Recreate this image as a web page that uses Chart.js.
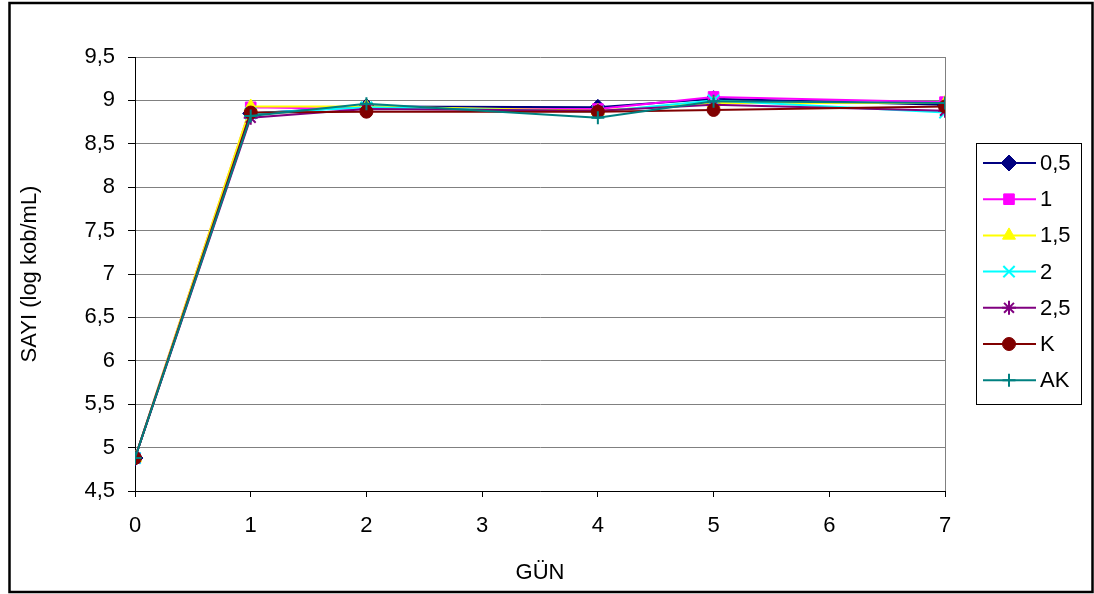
<!DOCTYPE html>
<html>
<head>
<meta charset="utf-8">
<script src="https://cdn.jsdelivr.net/npm/chart.js@4/dist/chart.umd.min.js"></script>
<style>
  html, body { margin: 0; padding: 0; background: #fff; }
  #wrap { width: 1094px; height: 594px; position: relative; }
</style>
</head>
<body>
<div id="wrap"><canvas id="c" width="1094" height="594"></canvas></div>
<script>
// Sampling days (GÜN)
const days = [0, 1, 2, 4, 5, 7];
// Tick labels on the day axis
const dayTicks = [0, 1, 2, 3, 4, 5, 6, 7];

// Counts, log kob/mL, per series
const s05 = [4.88, 8.85, 8.93, 8.92, 9.02, 8.95];
const s1  = [4.88, 8.92, 8.90, 8.90, 9.04, 8.98];
const s15 = [4.88, 8.93, 8.93, 8.88, 8.97, 8.97];
const s2  = [4.88, 8.85, 8.92, 8.87, 9.00, 8.86];
const s25 = [4.88, 8.80, 8.90, 8.88, 8.95, 8.88];
const sK  = [4.88, 8.86, 8.87, 8.87, 8.89, 8.93];
const sAK = [4.88, 8.82, 8.96, 8.80, 8.99, 8.97];

const seriesNames = ['0,5', '1', '1,5', '2', '2,5', 'K', 'AK'];
const seriesValues = [s05, s1, s15, s2, s25, sK, sAK];
const colors = ['#000080', '#FF00FF', '#FFFF00', '#00FFFF', '#800080', '#800000', '#008080'];
const markers = ['rectRot', 'rect', 'triangle', 'crossRot', 'star', 'circle', 'cross'];
const markerSize = [8, 7.5, 7.5, 8, 7, 6.5, 6.5];

const FONT = 'Liberation Sans, Arial, sans-serif';
const FSIZE = 22;

const strokeOnly = s => s === 'crossRot' || s === 'star' || s === 'cross';

const datasets = seriesNames.map((name, i) => ({
  label: name,
  data: days.map((d, j) => ({ x: d, y: seriesValues[i][j] })),
  borderColor: colors[i],
  backgroundColor: colors[i],
  borderWidth: 2,
  pointStyle: markers[i],
  pointRadius: markerSize[i],
  pointBorderWidth: strokeOnly(markers[i]) ? 2 : 1,
  pointBorderColor: colors[i],
  pointBackgroundColor: colors[i],
  tension: 0,
  order: seriesNames.length - i
}));

// Outer frame, plot frame and the boxed legend on the right
const framePlugin = {
  id: 'frame',
  beforeDraw(chart) {
    const ctx = chart.ctx;
    ctx.save();
    ctx.fillStyle = '#fff';
    ctx.fillRect(0, 0, chart.width, chart.height);
    ctx.restore();
  },
  afterDraw(chart) {
    const ctx = chart.ctx;
    const a = chart.chartArea;
    ctx.save();
    // plot area right edge
    ctx.strokeStyle = '#808080';
    ctx.lineWidth = 1;
    ctx.beginPath();
    ctx.moveTo(Math.round(a.right) + 0.5, a.top);
    ctx.lineTo(Math.round(a.right) + 0.5, a.bottom);
    ctx.stroke();

    // outer border
    ctx.strokeStyle = '#000';
    ctx.lineWidth = 2.5;
    ctx.strokeRect(9.5, 3, 1083, 589);

    // legend
    const lx = 976, ly = 143, lw = 105, lh = 261;
    ctx.lineWidth = 1;
    ctx.strokeStyle = '#000';
    ctx.strokeRect(lx + 0.5, ly + 0.5, lw, lh);
    ctx.font = FSIZE + 'px ' + FONT;
    ctx.textBaseline = 'middle';
    ctx.textAlign = 'left';
    chart.data.datasets.forEach((ds, i) => {
      const y = 163 + i * 36.2;
      ctx.strokeStyle = ds.borderColor;
      ctx.lineWidth = 2;
      ctx.beginPath();
      ctx.moveTo(983, y);
      ctx.lineTo(1036, y);
      ctx.stroke();
      ctx.fillStyle = ds.backgroundColor;
      ctx.strokeStyle = ds.borderColor;
      ctx.lineWidth = ds.pointBorderWidth;
      Chart.helpers.drawPoint(ctx, { pointStyle: ds.pointStyle, radius: ds.pointRadius, rotation: 0, borderWidth: ds.pointBorderWidth }, 1009, y);
      ctx.fillStyle = '#000';
      ctx.fillText(ds.label, 1040, y + 1);
    });
    ctx.restore();
  }
};

new Chart(document.getElementById('c'), {
  type: 'line',
  data: { datasets },
  options: {
    responsive: false,
    animation: false,
    devicePixelRatio: 1,
    layout: { padding: { left: 0, right: 149, top: 57, bottom: 0 } },
    plugins: { legend: { display: false }, tooltip: { enabled: false } },
    scales: {
      x: {
        type: 'linear',
        min: 0,
        max: 7,
        afterBuildTicks(scale) { scale.ticks = dayTicks.map(v => ({ value: v })); },
        afterFit(scale) { scale.height = 103; },
        border: { display: true, color: '#000', width: 1 },
        grid: { drawOnChartArea: false, drawTicks: true, tickLength: 6, color: '#000', tickColor: '#000' },
        ticks: { color: '#000', font: { family: FONT, size: FSIZE }, padding: 16, maxRotation: 0 },
        title: { display: true, text: 'GÜN', color: '#000', font: { family: FONT, size: FSIZE }, padding: { top: 8, bottom: 8 } }
      },
      y: {
        min: 4.5,
        max: 9.5,
        afterFit(scale) { scale.width = 135; },
        border: { display: true, color: '#000', width: 1 },
        grid: { color: '#808080', lineWidth: 1, drawTicks: true, tickLength: 7, tickColor: '#000' },
        ticks: {
          stepSize: 0.5,
          color: '#000',
          font: { family: FONT, size: FSIZE },
          padding: 13,
          callback: v => String(v).replace('.', ',')
        },
        title: { display: true, text: 'SAYI (log kob/mL)', color: '#000', font: { family: FONT, size: FSIZE }, padding: { top: 17, bottom: 17 } }
      }
    }
  },
  plugins: [framePlugin]
});
</script>
</body>
</html>
